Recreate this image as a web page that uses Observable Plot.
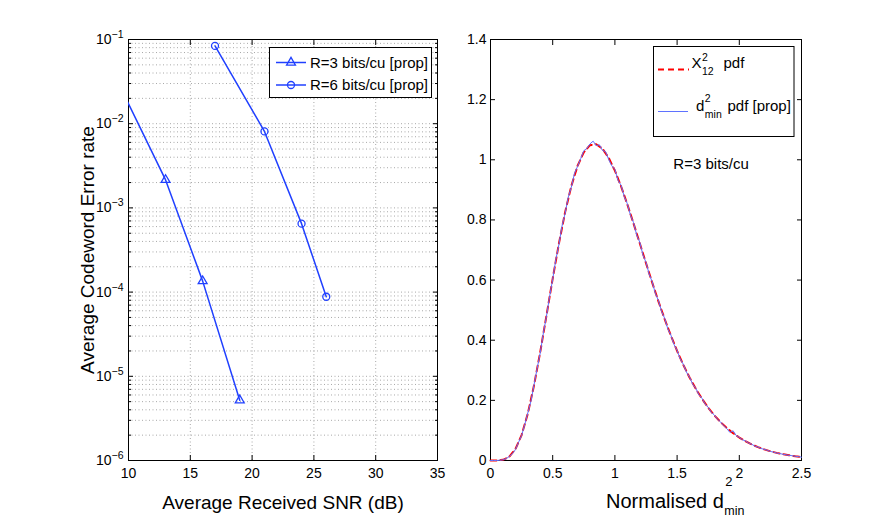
<!DOCTYPE html>
<html><head><meta charset="utf-8">
<script src="https://cdn.jsdelivr.net/npm/d3@7"></script>
<script src="https://cdn.jsdelivr.net/npm/@observablehq/plot@0.6"></script>
<style>
body{margin:0;background:#fff;}
#wrap{position:relative;width:885px;height:518px;overflow:hidden;background:#fff;}
#wrap svg{position:absolute;top:0;}
</style></head><body><div id="wrap"></div>
<script>
// ---------- Left panel data ----------
const snr3 = [7, 13, 16, 19];
const cer3 = [0.138, 2.15e-3, 1.35e-4, 5.2e-6];
const snr6 = [17, 21, 24, 26];
const cer6 = [0.084, 8.1e-3, 6.5e-4, 8.8e-5];
const xTicksL = [10, 15, 20, 25, 30, 35];
const yMajorL = [1e-6, 1e-5, 1e-4, 1e-3, 1e-2, 1e-1];
const minorMult = [2, 3, 4, 5, 6, 7, 8, 9];
const legendL = ["R=3 bits/cu [prop]", "R=6 bits/cu [prop]"];
const xLabelL = "Average Received SNR (dB)";
const yLabelL = "Average Codeword Error rate";

// ---------- Right panel data ----------
const pdfX = [0,0.05,0.1,0.15,0.2,0.25,0.3,0.35,0.4,0.45,0.5,0.55,0.6,0.65,0.7,0.75,0.8,0.85,0.9,0.95,1,1.05,1.1,1.15,1.2,1.25,1.3,1.35,1.4,1.45,1.5,1.55,1.6,1.65,1.7,1.75,1.8,1.85,1.9,1.95,2,2.05,2.1,2.15,2.2,2.25,2.3,2.35,2.4,2.45,2.5];
const chiPdf = [0,0.0001,0.0021,0.0120,0.0375,0.0847,0.1562,0.2501,0.3612,0.4822,0.6050,0.7217,0.8260,0.9131,0.9799,1.0250,1.0485,1.0517,1.0369,1.0066,0.9638,0.9112,0.8518,0.7881,0.7223,0.6562,0.5915,0.5292,0.4702,0.4152,0.3644,0.3180,0.2761,0.2386,0.2052,0.1757,0.1499,0.1273,0.1078,0.0909,0.0764,0.0641,0.0535,0.0446,0.0371,0.0307,0.0254,0.0210,0.0173,0.0142,0.0116];
const histX = [0,0.025,0.05,0.075,0.1,0.125,0.15,0.175,0.2,0.225,0.25,0.275,0.3,0.325,0.35,0.375,0.4,0.425,0.45,0.475,0.5,0.525,0.55,0.575,0.6,0.625,0.65,0.675,0.7,0.725,0.75,0.775,0.8,0.825,0.85,0.875,0.9,0.925,0.95,0.975,1,1.025,1.05,1.075,1.1,1.125,1.15,1.175,1.2,1.225,1.25,1.275,1.3,1.325,1.35,1.375,1.4,1.425,1.45,1.475,1.5,1.525,1.55,1.575,1.6,1.625,1.65,1.675,1.7,1.725,1.75,1.775,1.8,1.825,1.85,1.875,1.9,1.925,1.95,1.975,2,2.025,2.05,2.075,2.1,2.125,2.15,2.175,2.2,2.225,2.25,2.275,2.3,2.325,2.35,2.375,2.4,2.425,2.45,2.475,2.5];
const histPdf = [0,0,0,0.001,0.002,0.006,0.013,0.022,0.036,0.060,0.083,0.119,0.158,0.197,0.252,0.306,0.358,0.424,0.480,0.545,0.603,0.668,0.718,0.780,0.822,0.876,0.909,0.955,0.978,1.004,1.030,1.038,1.053,1.062,1.047,1.050,1.031,1.027,1.001,0.980,0.968,0.932,0.915,0.878,0.854,0.816,0.791,0.750,0.726,0.684,0.659,0.620,0.594,0.556,0.532,0.496,0.473,0.438,0.417,0.386,0.366,0.338,0.320,0.294,0.277,0.254,0.240,0.219,0.207,0.188,0.177,0.160,0.151,0.137,0.128,0.116,0.106,0.093,0.099,0.083,0.077,0.069,0.065,0.058,0.054,0.048,0.045,0.040,0.037,0.034,0.030,0.028,0.025,0.023,0.021,0.019,0.017,0.016,0.014,0.013,0.011];
const xTicksR = [0, 0.5, 1, 1.5, 2, 2.5];
const yTicksR = [0, 0.2, 0.4, 0.6, 0.8, 1, 1.2, 1.4];
const noteR = "R=3 bits/cu";
const notePos = {x: 1.47, y: 0.985};

// ---------- build ----------
const FONT = '"Liberation Sans", Arial, Helvetica, sans-serif';
const BLUE = "#2040ff";
const LBLUE = "#5f72ff";
const RED = "#ff0000";
const GRID = {stroke: "#a8a8a8", strokeOpacity: 1, strokeDasharray: "1,2.5", strokeWidth: 1};
const svgNS = "http://www.w3.org/2000/svg";

const yMinorL = yMajorL.slice(0, -1).flatMap(d => minorMult.map(m => m * d));
const rate3 = snr3.map((s, i) => ({snr: s, cer: cer3[i]}));
const rate6 = snr6.map((s, i) => ({snr: s, cer: cer6[i]}));
const chi = pdfX.map((x, i) => ({x, y: chiPdf[i]}));
const hist = histX.map((x, i) => ({x, y: histPdf[i]}));

const left = Plot.plot({
  width: 445, height: 518,
  marginLeft: 128, marginRight: 8, marginTop: 39, marginBottom: 58,
  style: {fontFamily: FONT, fontSize: "14px", color: "black", background: "transparent", overflow: "visible"},
  x: {domain: [10, 35]},
  y: {type: "log", domain: [1e-6, 1e-1]},
  marks: [
    Plot.gridX(xTicksL, GRID),
    Plot.gridY(yMajorL.concat(yMinorL), GRID),
    Plot.axisX(xTicksL, {anchor: "bottom", tickSize: 0, tickPadding: 8, tickFormat: d => String(d), fontSize: 14, label: null}),
    Plot.axisX(xTicksL, {anchor: "bottom", tickSize: -5, fill: "none", label: null}),
    Plot.axisX(xTicksL, {anchor: "top", tickSize: -5, fill: "none", label: null}),
    Plot.axisY(yMajorL, {anchor: "left", tickSize: 0, tickPadding: 5, tickFormat: d => String(Math.round(Math.log10(d))), fontSize: 14, label: null}),
    Plot.axisY(yMajorL, {anchor: "left", tickSize: -5, fill: "none", label: null}),
    Plot.axisY(yMinorL, {anchor: "left", tickSize: -3, fill: "none", label: null}),
    Plot.axisY(yMajorL, {anchor: "right", tickSize: -5, fill: "none", label: null}),
    Plot.axisY(yMinorL, {anchor: "right", tickSize: -3, fill: "none", label: null}),
    Plot.frame({stroke: "black"}),
    Plot.line(rate3, {x: "snr", y: "cer", stroke: BLUE, strokeWidth: 1.5, clip: true}),
    Plot.dot(rate3, {x: "snr", y: "cer", symbol: "triangle", r: 3.3, stroke: BLUE, fill: "none", strokeWidth: 1.3, clip: true}),
    Plot.line(rate6, {x: "snr", y: "cer", stroke: BLUE, strokeWidth: 1.5, clip: true}),
    Plot.dot(rate6, {x: "snr", y: "cer", symbol: "circle", r: 3.5, stroke: BLUE, fill: "none", strokeWidth: 1.3, clip: true}),
    Plot.text([yLabelL], {frameAnchor: "left", dx: -41, rotate: -90, textAnchor: "middle", fontSize: 19, text: d => d, fill: "black"}),
    Plot.text([xLabelL], {frameAnchor: "bottom", dy: 48, lineAnchor: "bottom", fontSize: 19, text: d => d, fill: "black"})
  ]
});
left.style.left = "0px";

const right = Plot.plot({
  width: 440, height: 518,
  marginLeft: 45, marginRight: 84, marginTop: 39, marginBottom: 58,
  style: {fontFamily: FONT, fontSize: "14px", color: "black", background: "transparent", overflow: "visible"},
  x: {domain: [0, 2.5]},
  y: {domain: [0, 1.4]},
  marks: [
    Plot.axisX(xTicksR, {anchor: "bottom", tickSize: 0, tickPadding: 8, tickFormat: d3.format("~g"), fontSize: 14, label: null}),
    Plot.axisX(xTicksR, {anchor: "bottom", tickSize: -5, fill: "none", label: null}),
    Plot.axisX(xTicksR, {anchor: "top", tickSize: -5, fill: "none", label: null}),
    Plot.axisY(yTicksR, {anchor: "left", tickSize: 0, tickPadding: 4, tickFormat: d3.format("~g"), fontSize: 14, label: null}),
    Plot.axisY(yTicksR, {anchor: "left", tickSize: -5, fill: "none", label: null}),
    Plot.axisY(yTicksR, {anchor: "right", tickSize: -5, fill: "none", label: null}),
    Plot.frame({stroke: "black"}),
    Plot.line(chi, {x: "x", y: "y", stroke: RED, strokeWidth: 2, strokeDasharray: "6,4"}),
    Plot.line(hist, {x: "x", y: "y", stroke: LBLUE, strokeWidth: 1}),
    Plot.text([noteR], {x: notePos.x, y: notePos.y, textAnchor: "start", fontSize: 15, text: d => d, fill: "black"})
  ]
});
right.style.left = "445px";

const wrap = document.getElementById("wrap");
wrap.appendChild(left);
wrap.appendChild(right);

// superscript exponents on the log tick labels
left.querySelectorAll('g[aria-label="y-axis tick label"] text').forEach(t => {
  const e = t.textContent.trim();
  t.textContent = "10";
  const ts = document.createElementNS(svgNS, "tspan");
  ts.setAttribute("dy", "-6");
  ts.setAttribute("font-size", "10.5");
  ts.textContent = e.replace("-", "\u2212");
  t.appendChild(ts);
});

function addText(svg, str, x, y, size, anchor) {
  return d3.select(svg).append("text")
    .attr("x", x).attr("y", y)
    .attr("font-family", FONT).attr("font-size", size)
    .attr("fill", "black")
    .attr("text-anchor", anchor || "start")
    .text(str);
}
function endX(t) { const n = t.node(); return +n.getAttribute("x") + n.getComputedTextLength(); }

// left legend
{
  const g = d3.select(left);
  g.append("rect").attr("x", 269.5).attr("y", 47.5).attr("width", 162).attr("height", 50)
    .attr("fill", "white").attr("stroke", "black").attr("stroke-width", 1);
  const rows = [62.5, 85];
  const syms = [d3.symbolTriangle, d3.symbolCircle];
  const sizes = [Math.PI * 3.3 * 3.3, Math.PI * 3.5 * 3.5];
  rows.forEach((yy, i) => {
    g.append("line").attr("x1", 276).attr("x2", 306).attr("y1", yy).attr("y2", yy)
      .attr("stroke", BLUE).attr("stroke-width", 1.5);
    g.append("path").attr("d", d3.symbol(syms[i], sizes[i])()).attr("transform", `translate(291,${yy})`)
      .attr("fill", "none").attr("stroke", BLUE).attr("stroke-width", 1.3);
    addText(left, legendL[i], 310, yy + 5.3, 15);
  });
}

// right legend
{
  const g = d3.select(right);
  g.append("rect").attr("x", 208.5).attr("y", 46.5).attr("width", 140.5).attr("height", 90)
    .attr("fill", "white").attr("stroke", "black").attr("stroke-width", 1);
  g.append("line").attr("x1", 213).attr("x2", 244).attr("y1", 69.5).attr("y2", 69.5)
    .attr("stroke", RED).attr("stroke-width", 2).attr("stroke-dasharray", "6,4");
  const X = addText(right, "X", 246.5, 68.3, 15);
  const xe = endX(X);
  addText(right, "2", xe + 0.5, 60.5, 10.5);
  addText(right, "12", xe + 0.5, 75, 10.5);
  addText(right, "pdf", 278.5, 68.3, 15);

  g.append("line").attr("x1", 213).attr("x2", 243).attr("y1", 111.5).attr("y2", 111.5)
    .attr("stroke", LBLUE).attr("stroke-width", 1);
  const D = addText(right, "d", 251, 110.5, 15);
  const de = endX(D);
  addText(right, "2", de + 0.5, 101.5, 10.5);
  addText(right, "min", de + 0.5, 117.5, 10.5);
  addText(right, "pdf [prop]", 282.5, 110.5, 15);

  // x label
  const N = addText(right, "Normalised d", 161, 508, 20);
  const ne = endX(N);
  addText(right, "2", ne + 1.5, 485.5, 13);
  addText(right, "min", ne + 0.5, 515, 12.5);
}
</script></body></html>
